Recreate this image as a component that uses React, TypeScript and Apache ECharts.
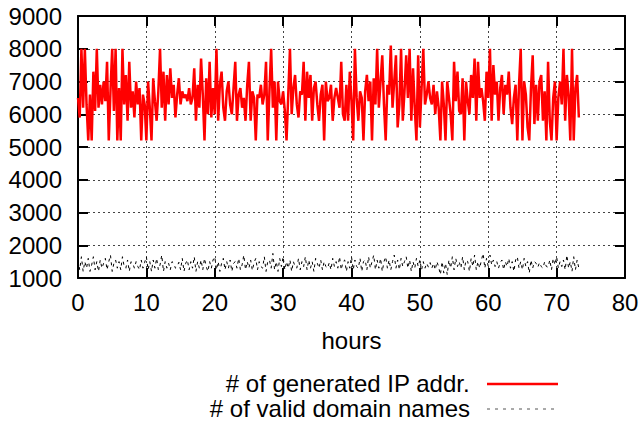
import React, { useEffect, useRef } from "react";
import * as echarts from "echarts";

// sampling interval of both series, in hours
const STEP_HOURS = 0.25;

const xTicks = { min: 0, max: 80, interval: 10 };
const yTicks = { min: 1000, max: 9000, interval: 1000 };

const seriesNames = ["# of generated IP addr.", "# of valid domain names"];
const xAxisTitle = "hours";

// # of generated IP addr., one value per 15 minutes
const generatedIP: number[] = [
  6500, 5900, 8000, 6200, 8000, 6300, 5200, 6600, 5200, 7300, 6100, 8000,
  6200, 6900, 6300, 7000, 6400, 7600, 5200, 6700, 8000, 6100, 8000, 5200,
  6800, 5200, 8000, 6300, 7200, 5800, 7600, 6200, 6700, 5900, 7000, 6300,
  6800, 5200, 6600, 6300,
  5200, 7000, 6200, 5200, 7100, 6400, 5800, 6700, 8000, 6200, 7300, 5800,
  7200, 6300, 7400, 6500, 6900, 5900, 6600, 7100, 6300, 6700, 6500, 6600,
  6400, 6800, 6300, 6500, 7400, 5800, 6900, 6200, 7700, 6600, 5200, 7100,
  6000, 7600, 5900, 6800,
  6000, 8000, 5800, 6900, 7300, 6200, 5800, 6700, 7000, 6300, 6000, 6800,
  7600, 5800, 6600, 6800, 6200, 6500, 5800, 6900, 7600, 5800, 6700, 6500,
  5200, 6600, 6500, 6900, 6300, 6600, 7600, 5200, 6700, 8000, 6200, 7000,
  5200, 7000, 6400, 6300,
  6700, 6100, 5200, 6600, 8000, 6000, 6800, 7200, 6300, 5900, 6700, 6600,
  7600, 5800, 7300, 6500, 7200, 5800, 6800, 7000, 6300, 5800, 6600, 6900,
  5200, 7000, 6400, 6500, 6900, 5800, 6500, 6800, 6500, 6200, 7600, 6000,
  5800, 6900, 5800, 7300,
  6400, 5200, 8000, 6500, 5800, 6700, 6500, 5200, 6700, 7200, 6400, 7000,
  5200, 7100, 6300, 8000, 6200, 7000, 7800, 6300, 5200, 6900, 6600, 8100,
  6200, 7000, 7800, 5600, 6300, 8000, 5800, 6700, 7800, 6500, 8000, 5800,
  7400, 6200, 5200, 7800,
  5600, 6800, 8000, 6300, 6600, 7000, 6500, 6300, 6900, 6000, 6700, 6200,
  5200, 7000, 6300, 5200, 7000, 6500, 6000, 5200, 7600, 6400, 7300, 6100,
  6000, 7100, 5200, 7000, 6400, 6000, 7200, 6500, 7700, 5800, 7600, 6500,
  6800, 6400, 5800, 7300,
  6500, 8000, 5800, 7500, 6600, 7000, 5800, 6800, 7200, 6000, 6900, 6600,
  7300, 6200, 5700, 6500, 6900, 5200, 6900, 8000, 5200, 7000, 6600, 5600,
  5200, 6800, 7800, 5700, 6900, 5800, 7000, 7200, 5800, 6700, 5200, 7600,
  5800, 5200, 6500, 7000,
  5200, 6500, 7000, 6300, 8000, 5800, 7200, 6600, 5200, 8000, 5200, 6800,
  7200, 5900,
];

// # of valid domain names, one value per 15 minutes
const validDomains: number[] = [
  1550, 1250, 1650, 1200, 1500, 1300, 1600, 1200, 1400, 1650, 1250, 1500,
  1200, 1550, 1300, 1450, 1600, 1250, 1500, 1700, 1200, 1450, 1550, 1300,
  1500, 1250, 1650, 1350, 1300, 1550, 1200, 1500, 1450, 1300, 1500, 1350,
  1250, 1550, 1300, 1480,
  1650, 1250, 1500, 1200, 1550, 1300, 1600, 1250, 1400, 1700, 1200, 1500,
  1300, 1450, 1250, 1500, 1450, 1300, 1350, 1480, 1250, 1600, 1200, 1450,
  1550, 1250, 1500, 1300, 1650, 1200, 1500, 1300, 1550, 1250, 1600, 1350,
  1200, 1500, 1300, 1550,
  1650, 1250, 1500, 1200, 1450, 1600, 1250, 1500, 1300, 1550, 1200, 1450,
  1500, 1300, 1600, 1250, 1400, 1700, 1250, 1500, 1300, 1550, 1230, 1470,
  1600, 1250, 1500, 1350, 1300, 1650, 1200, 1500, 1550, 1300, 1750, 1250,
  1500, 1200, 1600, 1350,
  1650, 1250, 1500, 1300, 1550, 1200, 1500, 1350, 1300, 1600, 1250, 1500,
  1350, 1650, 1250, 1550, 1300, 1500, 1200, 1600, 1450, 1300, 1550, 1250,
  1500, 1350, 1300, 1470, 1250, 1600, 1350, 1500, 1300, 1650, 1250, 1500,
  1550, 1200, 1500, 1300,
  1650, 1250, 1550, 1350, 1300, 1600, 1200, 1500, 1550, 1250, 1650, 1300,
  1500, 1700, 1250, 1550, 1300, 1600, 1200, 1500, 1650, 1300, 1550, 1250,
  1500, 1700, 1300, 1550, 1250, 1600, 1350, 1500, 1650, 1300, 1550, 1200,
  1500, 1300, 1600, 1350,
  1550, 1250, 1500, 1300, 1450, 1330, 1470, 1300, 1450, 1250, 1500, 1330,
  1100, 1500, 1150, 1450, 1100, 1550, 1300, 1650, 1250, 1600, 1350, 1500,
  1300, 1650, 1250, 1550, 1500, 1200, 1600, 1350, 1700, 1250, 1500, 1300,
  1550, 1750, 1300, 1600,
  1350, 1700, 1400, 1550, 1350, 1500, 1300, 1470, 1550, 1250, 1500, 1350,
  1600, 1300, 1500, 1200, 1550, 1650, 1300, 1500, 1250, 1600, 1350, 1500,
  1150, 1550, 1300, 1500, 1450, 1330, 1470, 1350, 1300, 1500, 1350, 1330,
  1550, 1250, 1600, 1400,
  1650, 1300, 1500, 1350, 1550, 1250, 1700, 1300, 1500, 1200, 1650, 1250,
  1550, 1300,
];

const FONT = "'Liberation Sans', Arial, Helvetica, sans-serif";

export default function App() {
  const ref = useRef<HTMLDivElement>(null);

  useEffect(() => {
    document.body.style.margin = "0";
    if (!ref.current) return;
    const chart = echarts.init(ref.current, null, { renderer: "svg" });

    const ipData = generatedIP.map((v, i) => [i * STEP_HOURS, v]);
    const domData = validDomains.map((v, i) => [i * STEP_HOURS, v]);

    const gridLine = {
      show: true,
      lineStyle: { color: "#444", width: 1, type: [2, 3] as number[] },
    };
    const axisLine = { show: true, onZero: false, lineStyle: { color: "#000", width: 2 } };
    const axisTick = { show: true, inside: true, length: 10, lineStyle: { color: "#000", width: 2 } };
    const label = { fontSize: 24, color: "#000", fontFamily: FONT };
    const plain = (v: number) => String(v);

    chart.setOption({
      animation: false,
      backgroundColor: "#fff",
      grid: { left: 78, right: 19, top: 16, bottom: 148 },
      xAxis: [
        {
          type: "value",
          position: "bottom",
          ...xTicks,
          axisLine,
          axisTick,
          splitLine: gridLine,
          axisLabel: { ...label, margin: 12, formatter: plain },
          name: xAxisTitle,
          nameLocation: "middle",
          nameGap: 50,
          nameTextStyle: { ...label },
        },
        {
          type: "value",
          position: "top",
          ...xTicks,
          axisLine,
          axisTick,
          splitLine: { show: false },
          axisLabel: { show: false },
        },
      ],
      yAxis: [
        {
          type: "value",
          position: "left",
          ...yTicks,
          axisLine,
          axisTick,
          splitLine: gridLine,
          axisLabel: { ...label, margin: 16, formatter: plain },
        },
        {
          type: "value",
          position: "right",
          ...yTicks,
          axisLine,
          axisTick,
          splitLine: { show: false },
          axisLabel: { show: false },
        },
      ],
      series: [
        {
          name: seriesNames[1],
          type: "line",
          data: domData,
          showSymbol: false,
          lineStyle: { color: "#000", width: 1, type: [3, 4] },
          z: 2,
        },
        {
          name: seriesNames[0],
          type: "line",
          data: ipData,
          showSymbol: false,
          lineStyle: { color: "#ff0000", width: 2.5 },
          z: 3,
        },
      ],
      graphic: [
        {
          type: "text",
          right: 644 - 470,
          top: 384 - 13,
          style: { text: seriesNames[0], font: `24px ${FONT}`, fill: "#000", align: "right" },
        },
        {
          type: "line",
          shape: { x1: 487, y1: 384, x2: 558, y2: 384 },
          style: { stroke: "#ff0000", lineWidth: 2.5 },
        },
        {
          type: "text",
          right: 644 - 470,
          top: 409 - 13,
          style: { text: seriesNames[1], font: `24px ${FONT}`, fill: "#000", align: "right" },
        },
        {
          type: "line",
          shape: { x1: 487, y1: 409, x2: 555, y2: 409 },
          style: { stroke: "#555", lineWidth: 1, lineDash: [3, 5] },
        },
      ],
    });

    return () => chart.dispose();
  }, []);

  return <div ref={ref} style={{ width: 644, height: 426 }} />;
}
